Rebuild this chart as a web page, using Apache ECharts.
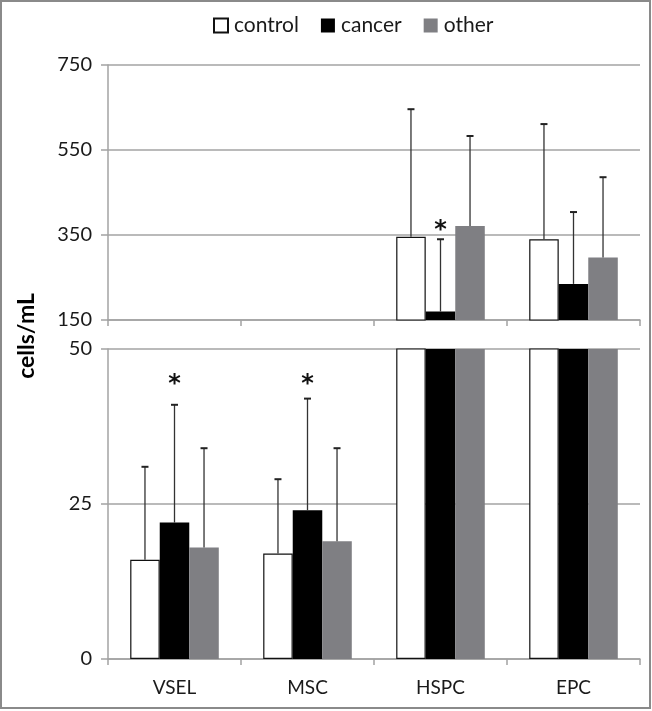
<!DOCTYPE html>
<html><head><meta charset="utf-8">
<script src="https://cdn.jsdelivr.net/npm/echarts@6/dist/echarts.min.js"></script>
<style>html,body{margin:0;padding:0;background:#fff}#c{width:652px;height:711px}</style>
</head><body><div id="c"></div>
<script>
const categories = ['VSEL', 'MSC', 'HSPC', 'EPC'];
const seriesNames = ['control', 'cancer', 'other'];
const controlMean = [16, 17, 346, 340];
const controlErr  = [15, 12, 300, 271];
const cancerMean  = [22, 24, 170, 235];
const cancerErr   = [19, 18, 170, 169];
const otherMean   = [18, 19, 371, 297];
const otherErr    = [16, 15, 212, 189];
const sigMarks    = [45, 45, 372, null]; // asterisk heights above cancer bars
const topTicks    = [150, 350, 550, 750];
const bottomTicks = [0, 25, 50];

const means = [controlMean, cancerMean, otherMean];
const errs = [controlErr, cancerErr, otherErr];
const FONT = 'Lato';
const BAR_FRAC = 0.222;
const barStyles = [
  {color: '#ffffff', borderColor: '#111111', borderWidth: 1.2},
  {color: '#000000'},
  {color: '#7f7f83'}
];
const grids = [
  {left: 108, width: 532, top: 65, height: 255},
  {left: 108, width: 532, top: 349, height: 310}
];
const gridColor = '#a3a3a3';

function xAxis(gi) {
  return {
    type: 'category', gridIndex: gi, data: categories,
    axisLine: {show: true, lineStyle: {color: gridColor, width: 1.5}},
    axisTick: {show: true, length: 6, lineStyle: {color: gridColor, width: 1.5}},
    axisLabel: {show: gi === 1, color: '#1a1a1a', fontSize: 19, fontFamily: FONT, margin: 19},
    splitLine: {show: false}
  };
}
function yAxis(gi, ticks) {
  return {
    type: 'value', gridIndex: gi, min: ticks[0], max: ticks[ticks.length - 1],
    interval: ticks[1] - ticks[0],
    axisLine: {show: true, lineStyle: {color: gridColor, width: 1.5}},
    axisTick: {show: true, length: 7, lineStyle: {color: gridColor, width: 1.5}},
    axisLabel: {color: '#1a1a1a', fontSize: 20, fontFamily: FONT, margin: 16},
    splitLine: {show: true, lineStyle: {color: gridColor, width: 1.5}}
  };
}

function errRender(k) {
  return function (params, api) {
    const cat = api.value(0), m = api.value(1), e = api.value(2);
    const band = api.size([1, 0])[0];
    const w = band * BAR_FRAC;
    const p0 = api.coord([cat, m]);
    const p1 = api.coord([cat, m + e]);
    const x = p0[0] + (k - 1) * w;
    const col = '#333333';
    return {type: 'group', children: [
      {type: 'line', shape: {x1: x, y1: p0[1], x2: x, y2: p1[1]}, style: {stroke: col, lineWidth: 1.3}},
      {type: 'line', shape: {x1: x - 3.5, y1: p1[1], x2: x + 3.5, y2: p1[1]}, style: {stroke: '#222', lineWidth: 2}}
    ]};
  };
}
function sigRender(params, api) {
  const p = api.coord([api.value(0), api.value(1)]);
  return {type: 'text', x: p[0], y: p[1] + 5, style: {
    text: '*', fill: '#111', font: 'bold 24px "DejaVu Sans"', textAlign: 'center', textVerticalAlign: 'middle'
  }};
}

const series = [];
for (let gi = 0; gi < 2; gi++) {
  for (let k = 0; k < 3; k++) {
    series.push({
      type: 'bar', name: seriesNames[k], xAxisIndex: gi, yAxisIndex: gi,
      data: means[k], barWidth: (BAR_FRAC * 100) + '%', barGap: '0%',
      itemStyle: barStyles[k], clip: true, z: 2, silent: true
    });
  }
  for (let k = 0; k < 3; k++) {
    series.push({
      type: 'custom', xAxisIndex: gi, yAxisIndex: gi, clip: true, z: 5, silent: true,
      renderItem: errRender(k),
      data: categories.map((c, i) => [i, means[k][i], errs[k][i]])
    });
  }
  series.push({
    type: 'custom', xAxisIndex: gi, yAxisIndex: gi, clip: true, z: 6, silent: true,
    renderItem: sigRender,
    data: categories.map((c, i) => [i, sigMarks[i]]).filter(d => d[1] != null)
  });
}

const chart = echarts.init(document.getElementById('c'), null, {renderer: 'canvas'});
chart.setOption({
  animation: false,
  backgroundColor: '#ffffff',
  grid: grids,
  legend: {
    data: seriesNames, top: 10, left: 208, itemWidth: 14, itemHeight: 14, itemGap: 22,
    icon: 'rect',
    textStyle: {fontSize: 21, fontFamily: FONT, color: '#1a1a1a', padding: [0, 0, 0, 1]}
  },
  xAxis: [xAxis(0), xAxis(1)],
  yAxis: [yAxis(0, topTicks), yAxis(1, bottomTicks)],
  series: series,
  graphic: [
    {type: 'rect', shape: {x: 1, y: 1, width: 649, height: 707}, style: {fill: 'none', stroke: '#8a8a8a', lineWidth: 2}, z: 100},
    {type: 'text', x: 27, y: 336, rotation: Math.PI / 2, style: {
      text: 'cells/mL', font: 'bold 23px ' + FONT, fill: '#000', textAlign: 'center', textVerticalAlign: 'middle'
    }}
  ]
});
</script>
</body></html>
